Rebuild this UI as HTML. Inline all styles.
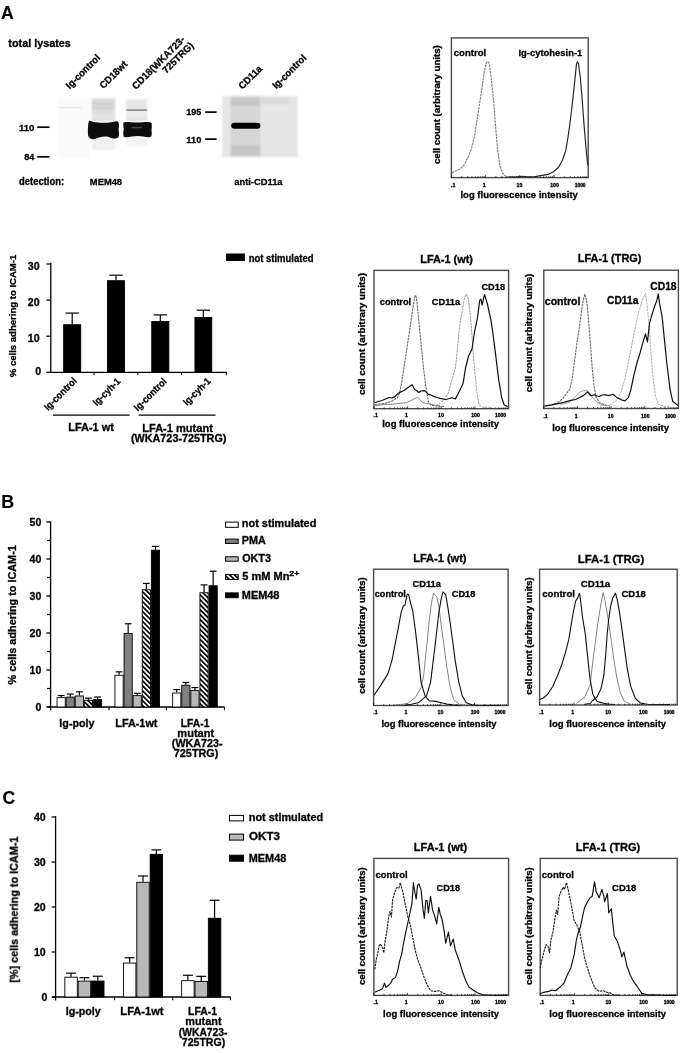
<!DOCTYPE html>
<html><head><meta charset="utf-8"><style>
html,body{margin:0;padding:0;background:#fff;}
body{width:685px;height:1053px;overflow:hidden;}
svg{display:block;font-family:"Liberation Sans",sans-serif;font-weight:bold;filter:grayscale(1);}
text{stroke:#000;stroke-width:0.3px;}
</style></head><body>
<svg width="685" height="1053" viewBox="0 0 685 1053">
<defs>
<filter id="b1" filterUnits="userSpaceOnUse" x="0" y="0" width="685" height="1053"><feGaussianBlur stdDeviation="1"/></filter>
<filter id="b2" filterUnits="userSpaceOnUse" x="0" y="0" width="685" height="1053"><feGaussianBlur stdDeviation="2"/></filter>
<filter id="gb" filterUnits="userSpaceOnUse" x="0" y="0" width="685" height="1053"><feGaussianBlur stdDeviation="0.5"/></filter>
<filter id="b05" filterUnits="userSpaceOnUse" x="0" y="0" width="685" height="1053"><feGaussianBlur stdDeviation="0.5"/></filter>
<pattern id="hatch" patternUnits="userSpaceOnUse" width="3.5" height="6" patternTransform="rotate(-45)">
<rect x="0" y="0" width="3.5" height="6" fill="#fff"/><rect x="0" y="0" width="1.7" height="6" fill="#000"/></pattern>
</defs>
<rect x="0" y="0" width="685" height="1053" fill="#fff"/>
<g filter="url(#gb)">
<text x="0.96" y="18.90" font-size="18.5" textLength="12.70" lengthAdjust="spacingAndGlyphs" fill="#000" style="stroke-width:0.15px">A</text>
<text x="1.20" y="507.80" font-size="18.5" textLength="12.91" lengthAdjust="spacingAndGlyphs" fill="#000" style="stroke-width:0.15px">B</text>
<text x="2.48" y="804.00" font-size="18.5" textLength="12.70" lengthAdjust="spacingAndGlyphs" fill="#000" style="stroke-width:0.15px">C</text>
<text x="8.37" y="47.30" font-size="10.81" textLength="62.48" lengthAdjust="spacingAndGlyphs" fill="#000">total lysates</text>
<defs><linearGradient id="sm1" x1="0" y1="0" x2="0" y2="1"><stop offset="0" stop-color="#e2e2e2"/><stop offset="0.2" stop-color="#d2d2d2"/><stop offset="0.5" stop-color="#dadada"/><stop offset="0.8" stop-color="#e6e6e6"/><stop offset="1" stop-color="#dcdcdc"/></linearGradient><linearGradient id="sm2" x1="0" y1="0" x2="0" y2="1"><stop offset="0" stop-color="#e8e8e8"/><stop offset="0.4" stop-color="#e2e2e2"/><stop offset="0.7" stop-color="#ededed"/><stop offset="1" stop-color="#e0e0e0"/></linearGradient></defs>
<g filter="url(#b1)">
<rect x="57.00" y="97.00" width="33.00" height="61.00" fill="#fafafa"/>
<rect x="91.70" y="98.20" width="23.30" height="23.00" fill="url(#sm1)"/>
<rect x="126.10" y="99.30" width="21.10" height="22.00" fill="url(#sm2)"/>
<rect x="92.00" y="138.00" width="23.00" height="12.00" fill="#efefef"/>
<rect x="127.00" y="137.00" width="20.00" height="9.00" fill="#f3f3f3"/>
</g>
<line x1="92.5" y1="103.5" x2="114.5" y2="103.5" stroke="#cccccc" stroke-width="0.8" filter="url(#b05)"/>
<line x1="92.5" y1="108.5" x2="114.5" y2="108.5" stroke="#cfcfcf" stroke-width="0.8" filter="url(#b05)"/>
<line x1="126.5" y1="110.1" x2="147" y2="110.1" stroke="#7a7a7a" stroke-width="1.4" filter="url(#b05)"/>
<line x1="59.6" y1="107.6" x2="81.5" y2="107.6" stroke="#e2e2e2" stroke-width="0.9"/>
<path d="M89.60 120.80 C90.50 120.58 91.63 121.67 93.80 122.00 C95.97 122.33 99.68 122.77 102.60 122.80 C105.52 122.83 108.83 122.43 111.30 122.20 C113.77 121.97 116.12 120.97 117.40 121.40 C118.68 121.83 118.80 123.47 119.00 124.80 C119.20 126.13 118.60 127.90 118.60 129.40 C118.60 130.90 119.13 132.40 119.00 133.80 C118.87 135.20 118.78 137.03 117.80 137.80 C116.82 138.57 115.05 138.60 113.10 138.40 C111.15 138.20 108.43 136.75 106.10 136.60 C103.77 136.45 101.30 137.05 99.10 137.50 C96.90 137.95 94.67 139.45 92.90 139.30 C91.13 139.15 89.33 138.25 88.50 136.60 C87.67 134.95 87.92 131.62 87.90 129.40 C87.88 127.18 88.12 124.73 88.40 123.30 C88.68 121.87 88.70 121.02 89.60 120.80 Z" fill="#0a0a0a" filter="url(#b05)"/>
<path d="M124.60 122.20 C126.87 121.80 132.78 122.60 137.00 122.60 C141.22 122.60 147.43 121.80 149.90 122.20 C152.37 122.60 151.53 123.65 151.80 125.00 C152.07 126.35 151.52 128.68 151.50 130.30 C151.48 131.92 152.08 133.55 151.70 134.70 C151.32 135.85 151.55 136.97 149.20 137.20 C146.85 137.43 141.58 136.10 137.60 136.10 C133.62 136.10 127.68 137.58 125.30 137.20 C122.92 136.82 123.57 135.10 123.30 133.80 C123.03 132.50 123.68 130.87 123.70 129.40 C123.72 127.93 123.25 126.20 123.40 125.00 C123.55 123.80 122.33 122.60 124.60 122.20 Z" fill="#0a0a0a" filter="url(#b05)"/>
<line x1="131.5" y1="127.7" x2="142" y2="127.7" stroke="#555" stroke-width="1.0" filter="url(#b05)"/>
<text x="19.02" y="130.90" font-size="9.3" textLength="15.36" lengthAdjust="spacingAndGlyphs" fill="#000">110</text>
<line x1="37.2" y1="127.2" x2="49.6" y2="127.2" stroke="#000" stroke-width="1.7"/>
<text x="24.21" y="159.90" font-size="9.3" textLength="10.14" lengthAdjust="spacingAndGlyphs" fill="#000">84</text>
<line x1="37.2" y1="156.8" x2="49.6" y2="156.8" stroke="#000" stroke-width="1.7"/>
<text x="19.11" y="185.00" font-size="10.0" textLength="44.99" lengthAdjust="spacingAndGlyphs" fill="#000">detection:</text>
<text x="89.87" y="185.00" font-size="9.8" textLength="32.21" lengthAdjust="spacingAndGlyphs" fill="#000">MEM48</text>
<text transform="translate(70.20 89.00) rotate(-45)" x="-0.64" y="0" font-size="9.8" textLength="43.91" lengthAdjust="spacingAndGlyphs" fill="#000">Ig-control</text>
<text transform="translate(103.80 89.00) rotate(-45)" x="-0.39" y="0" font-size="9.8" textLength="34.50" lengthAdjust="spacingAndGlyphs" fill="#000">CD18wt</text>
<text transform="translate(136.20 89.60) rotate(-45)" x="-0.40" y="0" font-size="9.8" textLength="70.28" lengthAdjust="spacingAndGlyphs" fill="#000">CD18(WKA723-</text>
<text transform="translate(166.60 73.80) rotate(-45)" x="-0.41" y="0" font-size="9.8" textLength="39.49" lengthAdjust="spacingAndGlyphs" fill="#000">725TRG)</text>
<g filter="url(#b1)">
<rect x="222.00" y="96.00" width="76.00" height="61.00" fill="#e6e6e6"/>
<rect x="230.50" y="96.00" width="30.00" height="61.00" fill="#d6d6d6"/>
<rect x="231.00" y="98.00" width="29.00" height="8.00" fill="#c6c6c6"/>
<rect x="231.00" y="145.00" width="29.00" height="10.00" fill="#c4c4c4"/>
<rect x="262.00" y="98.00" width="27.00" height="6.00" fill="#d8d8d8"/>
</g>
<path d="M234.2 122.8 L257.4 122.8 Q260.4 122.8 260.4 125.8 Q259.9 125.80000000000001 260.4 125.80000000000001 Q260.4 128.8 257.4 128.8 L234.2 128.8 Q231.2 128.8 231.2 125.80000000000001 Q231.7 125.80000000000001 231.2 125.8 Q231.2 122.8 234.2 122.8 Z" fill="#050505" filter="url(#b05)"/>
<text x="186.34" y="115.40" font-size="9.0" textLength="14.91" lengthAdjust="spacingAndGlyphs" fill="#000">195</text>
<line x1="205.2" y1="112.1" x2="216.6" y2="112.1" stroke="#000" stroke-width="1.7"/>
<text x="186.33" y="142.60" font-size="9.0" textLength="15.04" lengthAdjust="spacingAndGlyphs" fill="#000">110</text>
<line x1="205.2" y1="139.1" x2="216.6" y2="139.1" stroke="#000" stroke-width="1.7"/>
<text x="234.23" y="184.60" font-size="9.8" textLength="48.31" lengthAdjust="spacingAndGlyphs" fill="#000">anti-CD11a</text>
<text transform="translate(242.70 89.60) rotate(-45)" x="-0.38" y="0" font-size="9.8" textLength="28.82" lengthAdjust="spacingAndGlyphs" fill="#000">CD11a</text>
<text transform="translate(276.70 88.90) rotate(-45)" x="-0.63" y="0" font-size="9.8" textLength="43.50" lengthAdjust="spacingAndGlyphs" fill="#000">Ig-control</text>
<rect x="451.40" y="37.90" width="136.80" height="139.70" fill="none" stroke="#4a4a4a" stroke-width="1.4"/>
<line x1="451.40" y1="177.6" x2="451.40" y2="175.10" stroke="#000" stroke-width="0.7"/>
<line x1="461.70" y1="177.6" x2="461.70" y2="176.20" stroke="#000" stroke-width="0.7"/>
<line x1="467.72" y1="177.6" x2="467.72" y2="176.20" stroke="#000" stroke-width="0.7"/>
<line x1="471.99" y1="177.6" x2="471.99" y2="176.20" stroke="#000" stroke-width="0.7"/>
<line x1="475.30" y1="177.6" x2="475.30" y2="176.20" stroke="#000" stroke-width="0.7"/>
<line x1="478.01" y1="177.6" x2="478.01" y2="176.20" stroke="#000" stroke-width="0.7"/>
<line x1="480.30" y1="177.6" x2="480.30" y2="176.20" stroke="#000" stroke-width="0.7"/>
<line x1="482.29" y1="177.6" x2="482.29" y2="176.20" stroke="#000" stroke-width="0.7"/>
<line x1="484.04" y1="177.6" x2="484.04" y2="176.20" stroke="#000" stroke-width="0.7"/>
<line x1="485.60" y1="177.6" x2="485.60" y2="175.10" stroke="#000" stroke-width="0.7"/>
<line x1="495.90" y1="177.6" x2="495.90" y2="176.20" stroke="#000" stroke-width="0.7"/>
<line x1="501.92" y1="177.6" x2="501.92" y2="176.20" stroke="#000" stroke-width="0.7"/>
<line x1="506.19" y1="177.6" x2="506.19" y2="176.20" stroke="#000" stroke-width="0.7"/>
<line x1="509.50" y1="177.6" x2="509.50" y2="176.20" stroke="#000" stroke-width="0.7"/>
<line x1="512.21" y1="177.6" x2="512.21" y2="176.20" stroke="#000" stroke-width="0.7"/>
<line x1="514.50" y1="177.6" x2="514.50" y2="176.20" stroke="#000" stroke-width="0.7"/>
<line x1="516.49" y1="177.6" x2="516.49" y2="176.20" stroke="#000" stroke-width="0.7"/>
<line x1="518.24" y1="177.6" x2="518.24" y2="176.20" stroke="#000" stroke-width="0.7"/>
<line x1="519.80" y1="177.6" x2="519.80" y2="175.10" stroke="#000" stroke-width="0.7"/>
<line x1="530.10" y1="177.6" x2="530.10" y2="176.20" stroke="#000" stroke-width="0.7"/>
<line x1="536.12" y1="177.6" x2="536.12" y2="176.20" stroke="#000" stroke-width="0.7"/>
<line x1="540.39" y1="177.6" x2="540.39" y2="176.20" stroke="#000" stroke-width="0.7"/>
<line x1="543.70" y1="177.6" x2="543.70" y2="176.20" stroke="#000" stroke-width="0.7"/>
<line x1="546.41" y1="177.6" x2="546.41" y2="176.20" stroke="#000" stroke-width="0.7"/>
<line x1="548.70" y1="177.6" x2="548.70" y2="176.20" stroke="#000" stroke-width="0.7"/>
<line x1="550.69" y1="177.6" x2="550.69" y2="176.20" stroke="#000" stroke-width="0.7"/>
<line x1="552.44" y1="177.6" x2="552.44" y2="176.20" stroke="#000" stroke-width="0.7"/>
<line x1="554.00" y1="177.6" x2="554.00" y2="175.10" stroke="#000" stroke-width="0.7"/>
<line x1="564.30" y1="177.6" x2="564.30" y2="176.20" stroke="#000" stroke-width="0.7"/>
<line x1="570.32" y1="177.6" x2="570.32" y2="176.20" stroke="#000" stroke-width="0.7"/>
<line x1="574.59" y1="177.6" x2="574.59" y2="176.20" stroke="#000" stroke-width="0.7"/>
<line x1="577.90" y1="177.6" x2="577.90" y2="176.20" stroke="#000" stroke-width="0.7"/>
<line x1="580.61" y1="177.6" x2="580.61" y2="176.20" stroke="#000" stroke-width="0.7"/>
<line x1="582.90" y1="177.6" x2="582.90" y2="176.20" stroke="#000" stroke-width="0.7"/>
<line x1="584.89" y1="177.6" x2="584.89" y2="176.20" stroke="#000" stroke-width="0.7"/>
<line x1="586.64" y1="177.6" x2="586.64" y2="176.20" stroke="#000" stroke-width="0.7"/>
<path d="M451.8 173.0 L455.7 171.1 L460.8 168.5 L464.7 164.0 L468.5 156.3 L471.7 147.4 L474.3 137.1 L476.8 121.7 L479.4 105.1 L481.9 88.4 L484.5 70.5 L486.4 62.8 L487.7 61.5 L489.0 62.8 L490.9 75.6 L492.8 92.3 L494.1 107.6 L495.4 124.3 L496.7 139.7 L498.0 152.5 L499.9 165.3 L502.4 173.0 L505.6 176.2 L509.5 176.8" fill="none" stroke="#7a7a7a" stroke-width="1.1" stroke-linejoin="round" stroke-dasharray="2.5 0.8"/>
<path d="M509.5 176.8 L515.0 177.1 L522.7 176.3 L527.8 176.9 L534.2 176.7 L540.6 175.6 L548.3 174.4 L553.5 171.8 L558.6 167.3 L562.4 160.3 L565.6 151.3 L567.6 139.7 L569.5 126.9 L571.4 111.5 L573.3 94.9 L575.3 75.6 L576.5 64.1 L577.4 61.8 L578.5 64.1 L580.4 78.2 L582.3 101.3 L584.2 126.9 L586.2 150.0 L587.4 162.8 L588.1 165.4" fill="none" stroke="#222" stroke-width="1.15" stroke-linejoin="round"/>
<text x="453.73" y="56.00" font-size="9.58" textLength="32.45" lengthAdjust="spacingAndGlyphs" fill="#000">control</text>
<text x="518.47" y="56.00" font-size="9.41" textLength="63.79" lengthAdjust="spacingAndGlyphs" fill="#000">Ig-cytohesin-1</text>
<text x="460.44" y="198.30" font-size="9.52" textLength="117.42" lengthAdjust="spacingAndGlyphs" fill="#000">log fluorescence intensity</text>
<text transform="translate(440.20 163.70) rotate(-90)" x="-0.38" y="0" font-size="8.4" textLength="118.86" lengthAdjust="spacingAndGlyphs" fill="#000">cell count (arbitrary units)</text>
<text x="451.03" y="187.20" font-size="5.2" textLength="4.34" lengthAdjust="spacingAndGlyphs" fill="#000">.1</text>
<text x="482.86" y="187.20" font-size="5.2" textLength="2.89" lengthAdjust="spacingAndGlyphs" fill="#000">1</text>
<text x="516.55" y="187.20" font-size="5.2" textLength="5.78" lengthAdjust="spacingAndGlyphs" fill="#000">10</text>
<text x="550.20" y="187.20" font-size="5.2" textLength="8.68" lengthAdjust="spacingAndGlyphs" fill="#000">100</text>
<text x="574.68" y="187.20" font-size="4.92" textLength="10.94" lengthAdjust="spacingAndGlyphs" fill="#000">1000</text>
<rect x="374.00" y="270.40" width="134.60" height="138.30" fill="none" stroke="#4a4a4a" stroke-width="1.4"/>
<line x1="374.00" y1="408.7" x2="374.00" y2="406.20" stroke="#000" stroke-width="0.7"/>
<line x1="384.13" y1="408.7" x2="384.13" y2="407.30" stroke="#000" stroke-width="0.7"/>
<line x1="390.06" y1="408.7" x2="390.06" y2="407.30" stroke="#000" stroke-width="0.7"/>
<line x1="394.26" y1="408.7" x2="394.26" y2="407.30" stroke="#000" stroke-width="0.7"/>
<line x1="397.52" y1="408.7" x2="397.52" y2="407.30" stroke="#000" stroke-width="0.7"/>
<line x1="400.18" y1="408.7" x2="400.18" y2="407.30" stroke="#000" stroke-width="0.7"/>
<line x1="402.44" y1="408.7" x2="402.44" y2="407.30" stroke="#000" stroke-width="0.7"/>
<line x1="404.39" y1="408.7" x2="404.39" y2="407.30" stroke="#000" stroke-width="0.7"/>
<line x1="406.11" y1="408.7" x2="406.11" y2="407.30" stroke="#000" stroke-width="0.7"/>
<line x1="407.65" y1="408.7" x2="407.65" y2="406.20" stroke="#000" stroke-width="0.7"/>
<line x1="417.78" y1="408.7" x2="417.78" y2="407.30" stroke="#000" stroke-width="0.7"/>
<line x1="423.71" y1="408.7" x2="423.71" y2="407.30" stroke="#000" stroke-width="0.7"/>
<line x1="427.91" y1="408.7" x2="427.91" y2="407.30" stroke="#000" stroke-width="0.7"/>
<line x1="431.17" y1="408.7" x2="431.17" y2="407.30" stroke="#000" stroke-width="0.7"/>
<line x1="433.83" y1="408.7" x2="433.83" y2="407.30" stroke="#000" stroke-width="0.7"/>
<line x1="436.09" y1="408.7" x2="436.09" y2="407.30" stroke="#000" stroke-width="0.7"/>
<line x1="438.04" y1="408.7" x2="438.04" y2="407.30" stroke="#000" stroke-width="0.7"/>
<line x1="439.76" y1="408.7" x2="439.76" y2="407.30" stroke="#000" stroke-width="0.7"/>
<line x1="441.30" y1="408.7" x2="441.30" y2="406.20" stroke="#000" stroke-width="0.7"/>
<line x1="451.43" y1="408.7" x2="451.43" y2="407.30" stroke="#000" stroke-width="0.7"/>
<line x1="457.36" y1="408.7" x2="457.36" y2="407.30" stroke="#000" stroke-width="0.7"/>
<line x1="461.56" y1="408.7" x2="461.56" y2="407.30" stroke="#000" stroke-width="0.7"/>
<line x1="464.82" y1="408.7" x2="464.82" y2="407.30" stroke="#000" stroke-width="0.7"/>
<line x1="467.48" y1="408.7" x2="467.48" y2="407.30" stroke="#000" stroke-width="0.7"/>
<line x1="469.74" y1="408.7" x2="469.74" y2="407.30" stroke="#000" stroke-width="0.7"/>
<line x1="471.69" y1="408.7" x2="471.69" y2="407.30" stroke="#000" stroke-width="0.7"/>
<line x1="473.41" y1="408.7" x2="473.41" y2="407.30" stroke="#000" stroke-width="0.7"/>
<line x1="474.95" y1="408.7" x2="474.95" y2="406.20" stroke="#000" stroke-width="0.7"/>
<line x1="485.08" y1="408.7" x2="485.08" y2="407.30" stroke="#000" stroke-width="0.7"/>
<line x1="491.01" y1="408.7" x2="491.01" y2="407.30" stroke="#000" stroke-width="0.7"/>
<line x1="495.21" y1="408.7" x2="495.21" y2="407.30" stroke="#000" stroke-width="0.7"/>
<line x1="498.47" y1="408.7" x2="498.47" y2="407.30" stroke="#000" stroke-width="0.7"/>
<line x1="501.13" y1="408.7" x2="501.13" y2="407.30" stroke="#000" stroke-width="0.7"/>
<line x1="503.39" y1="408.7" x2="503.39" y2="407.30" stroke="#000" stroke-width="0.7"/>
<line x1="505.34" y1="408.7" x2="505.34" y2="407.30" stroke="#000" stroke-width="0.7"/>
<line x1="507.06" y1="408.7" x2="507.06" y2="407.30" stroke="#000" stroke-width="0.7"/>
<path d="M375.0 405.5 L385.0 404.5 L395.0 404.0 L400.0 403.2 L406.9 402.6 L412.0 400.0 L417.6 397.2 L420.0 399.5 L422.3 402.6 L428.3 403.8 L434.0 405.0 L440.0 405.8" fill="none" stroke="#8a8a8a" stroke-width="1.0" stroke-linejoin="round"/>
<path d="M375.0 404.5 L385.0 403.5 L392.0 401.0 L397.4 397.8 L399.8 391.9 L402.1 380.0 L405.7 356.3 L409.3 332.5 L412.8 308.8 L414.5 298.0 L415.4 295.1 L416.2 297.0 L417.0 302.8 L418.8 320.6 L421.1 344.4 L423.5 368.1 L425.9 387.1 L428.3 401.4 L430.6 405.0 L436.0 406.0 L445.0 406.5" fill="none" stroke="#6a6a6a" stroke-width="1.1" stroke-linejoin="round" stroke-dasharray="2.5 0.8"/>
<path d="M436.0 405.5 L440.0 403.6 L444.7 398.9 L448.3 393.0 L451.9 379.9 L455.4 368.0 L457.5 348.0 L459.6 326.5 L462.5 308.7 L464.5 298.0 L466.3 293.9 L468.5 299.2 L470.8 320.6 L472.6 344.3 L474.4 368.0 L476.8 391.8 L479.1 404.8 L482.7 407.2 L490.0 407.3" fill="none" stroke="#999" stroke-width="1.0" stroke-linejoin="round" stroke-dasharray="2.5 0.8"/>
<path d="M375.0 402.8 L378.0 401.5 L382.0 400.5 L386.0 398.8 L389.0 397.5 L392.0 398.0 L395.0 396.6 L398.0 393.5 L400.9 391.9 L404.0 390.5 L406.9 388.3 L409.5 386.5 L412.2 384.8 L414.6 389.5 L416.5 390.5 L418.8 392.5 L421.0 391.0 L424.7 390.7 L428.3 394.3 L431.0 395.0 L434.2 396.6 L437.0 397.5 L440.0 398.3 L445.9 399.5 L451.9 397.7 L455.4 398.9 L458.0 394.0 L460.2 389.4 L463.1 383.5 L465.5 368.0 L468.5 356.2 L472.0 349.0 L474.4 332.5 L477.4 318.2 L479.7 300.4 L480.9 299.2 L482.1 305.2 L484.5 294.5 L486.3 300.4 L487.4 304.0 L491.0 320.6 L492.8 332.5 L495.8 356.2 L498.7 379.9 L501.7 397.7 L504.1 404.8 L507.6 406.6" fill="none" stroke="#111" stroke-width="1.2" stroke-linejoin="round"/>
<text x="379.74" y="305.20" font-size="9.27" textLength="31.42" lengthAdjust="spacingAndGlyphs" fill="#000">control</text>
<text x="431.83" y="305.00" font-size="9.06" textLength="28.21" lengthAdjust="spacingAndGlyphs" fill="#000">CD11a</text>
<text x="481.42" y="290.30" font-size="9.26" textLength="23.66" lengthAdjust="spacingAndGlyphs" fill="#000">CD18</text>
<text x="420.28" y="263.00" font-size="10.77" textLength="52.66" lengthAdjust="spacingAndGlyphs" fill="#000">LFA-1 (wt)</text>
<text x="382.24" y="426.60" font-size="9.47" textLength="116.81" lengthAdjust="spacingAndGlyphs" fill="#000">log fluorescence intensity</text>
<text transform="translate(364.80 394.60) rotate(-90)" x="-0.39" y="0" font-size="8.3" textLength="121.98" lengthAdjust="spacingAndGlyphs" fill="#000">cell count (arbitrary units)</text>
<text x="373.63" y="417.00" font-size="5.2" textLength="4.34" lengthAdjust="spacingAndGlyphs" fill="#000">.1</text>
<text x="404.91" y="417.00" font-size="5.2" textLength="2.89" lengthAdjust="spacingAndGlyphs" fill="#000">1</text>
<text x="438.05" y="417.00" font-size="5.2" textLength="5.78" lengthAdjust="spacingAndGlyphs" fill="#000">10</text>
<text x="471.15" y="417.00" font-size="5.2" textLength="8.68" lengthAdjust="spacingAndGlyphs" fill="#000">100</text>
<text x="495.08" y="417.00" font-size="4.92" textLength="10.94" lengthAdjust="spacingAndGlyphs" fill="#000">1000</text>
<rect x="543.80" y="270.20" width="134.60" height="138.30" fill="none" stroke="#4a4a4a" stroke-width="1.4"/>
<line x1="543.80" y1="408.5" x2="543.80" y2="406.00" stroke="#000" stroke-width="0.7"/>
<line x1="553.93" y1="408.5" x2="553.93" y2="407.10" stroke="#000" stroke-width="0.7"/>
<line x1="559.86" y1="408.5" x2="559.86" y2="407.10" stroke="#000" stroke-width="0.7"/>
<line x1="564.06" y1="408.5" x2="564.06" y2="407.10" stroke="#000" stroke-width="0.7"/>
<line x1="567.32" y1="408.5" x2="567.32" y2="407.10" stroke="#000" stroke-width="0.7"/>
<line x1="569.98" y1="408.5" x2="569.98" y2="407.10" stroke="#000" stroke-width="0.7"/>
<line x1="572.24" y1="408.5" x2="572.24" y2="407.10" stroke="#000" stroke-width="0.7"/>
<line x1="574.19" y1="408.5" x2="574.19" y2="407.10" stroke="#000" stroke-width="0.7"/>
<line x1="575.91" y1="408.5" x2="575.91" y2="407.10" stroke="#000" stroke-width="0.7"/>
<line x1="577.45" y1="408.5" x2="577.45" y2="406.00" stroke="#000" stroke-width="0.7"/>
<line x1="587.58" y1="408.5" x2="587.58" y2="407.10" stroke="#000" stroke-width="0.7"/>
<line x1="593.51" y1="408.5" x2="593.51" y2="407.10" stroke="#000" stroke-width="0.7"/>
<line x1="597.71" y1="408.5" x2="597.71" y2="407.10" stroke="#000" stroke-width="0.7"/>
<line x1="600.97" y1="408.5" x2="600.97" y2="407.10" stroke="#000" stroke-width="0.7"/>
<line x1="603.63" y1="408.5" x2="603.63" y2="407.10" stroke="#000" stroke-width="0.7"/>
<line x1="605.89" y1="408.5" x2="605.89" y2="407.10" stroke="#000" stroke-width="0.7"/>
<line x1="607.84" y1="408.5" x2="607.84" y2="407.10" stroke="#000" stroke-width="0.7"/>
<line x1="609.56" y1="408.5" x2="609.56" y2="407.10" stroke="#000" stroke-width="0.7"/>
<line x1="611.10" y1="408.5" x2="611.10" y2="406.00" stroke="#000" stroke-width="0.7"/>
<line x1="621.23" y1="408.5" x2="621.23" y2="407.10" stroke="#000" stroke-width="0.7"/>
<line x1="627.16" y1="408.5" x2="627.16" y2="407.10" stroke="#000" stroke-width="0.7"/>
<line x1="631.36" y1="408.5" x2="631.36" y2="407.10" stroke="#000" stroke-width="0.7"/>
<line x1="634.62" y1="408.5" x2="634.62" y2="407.10" stroke="#000" stroke-width="0.7"/>
<line x1="637.28" y1="408.5" x2="637.28" y2="407.10" stroke="#000" stroke-width="0.7"/>
<line x1="639.54" y1="408.5" x2="639.54" y2="407.10" stroke="#000" stroke-width="0.7"/>
<line x1="641.49" y1="408.5" x2="641.49" y2="407.10" stroke="#000" stroke-width="0.7"/>
<line x1="643.21" y1="408.5" x2="643.21" y2="407.10" stroke="#000" stroke-width="0.7"/>
<line x1="644.75" y1="408.5" x2="644.75" y2="406.00" stroke="#000" stroke-width="0.7"/>
<line x1="654.88" y1="408.5" x2="654.88" y2="407.10" stroke="#000" stroke-width="0.7"/>
<line x1="660.81" y1="408.5" x2="660.81" y2="407.10" stroke="#000" stroke-width="0.7"/>
<line x1="665.01" y1="408.5" x2="665.01" y2="407.10" stroke="#000" stroke-width="0.7"/>
<line x1="668.27" y1="408.5" x2="668.27" y2="407.10" stroke="#000" stroke-width="0.7"/>
<line x1="670.93" y1="408.5" x2="670.93" y2="407.10" stroke="#000" stroke-width="0.7"/>
<line x1="673.19" y1="408.5" x2="673.19" y2="407.10" stroke="#000" stroke-width="0.7"/>
<line x1="675.14" y1="408.5" x2="675.14" y2="407.10" stroke="#000" stroke-width="0.7"/>
<line x1="676.86" y1="408.5" x2="676.86" y2="407.10" stroke="#000" stroke-width="0.7"/>
<path d="M560.0 404.5 L569.7 402.4 L575.0 397.0 L580.3 391.8 L586.3 390.0 L589.8 393.0 L593.4 398.9 L599.3 403.6 L606.4 406.0" fill="none" stroke="#999" stroke-width="0.9" stroke-linejoin="round"/>
<path d="M544.7 406.0 L551.9 404.8 L557.8 402.4 L562.5 398.9 L566.1 394.1 L569.7 389.4 L572.0 379.9 L574.4 362.1 L576.8 344.3 L580.3 320.6 L582.7 302.8 L584.8 293.9 L586.9 302.8 L588.6 320.6 L590.4 344.3 L592.2 368.0 L594.0 385.8 L595.8 396.5 L599.3 402.4 L604.1 404.8 L610.0 406.0" fill="none" stroke="#6a6a6a" stroke-width="1.1" stroke-linejoin="round" stroke-dasharray="2.5 0.8"/>
<path d="M600.0 406.0 L609.0 405.5 L615.6 401.6 L621.0 392.3 L624.9 379.0 L628.3 363.0 L630.9 349.7 L634.2 332.5 L638.2 313.9 L642.2 300.6 L645.5 293.3 L646.9 303.2 L648.9 323.2 L650.8 349.7 L652.8 376.3 L655.5 396.2 L658.2 404.2 L663.5 406.2 L670.0 406.4" fill="none" stroke="#aaa" stroke-width="1.0" stroke-linejoin="round" stroke-dasharray="2.5 0.8"/>
<path d="M544.7 406.0 L551.9 404.8 L557.8 403.6 L563.7 402.4 L569.7 400.7 L575.6 399.5 L579.1 397.7 L582.7 395.9 L585.1 394.1 L587.4 391.8 L588.6 393.0 L591.0 395.9 L594.6 394.7 L597.0 396.0 L599.3 396.5 L602.0 395.0 L605.0 394.9 L609.0 395.6 L613.0 394.3 L617.0 397.6 L622.3 400.2 L624.9 400.9 L628.3 397.6 L630.9 389.6 L633.6 376.3 L636.9 363.0 L640.2 352.4 L643.5 340.4 L645.5 333.8 L647.5 341.8 L649.5 323.2 L652.2 313.9 L654.8 305.9 L656.8 300.6 L658.2 293.9 L659.5 303.2 L662.1 316.5 L664.1 336.4 L666.8 363.0 L670.1 389.6 L672.8 401.6 L678.1 405.5" fill="none" stroke="#111" stroke-width="1.2" stroke-linejoin="round"/>
<text x="544.79" y="304.60" font-size="10.52" textLength="35.66" lengthAdjust="spacingAndGlyphs" fill="#000">control</text>
<text x="607.09" y="303.90" font-size="10.04" textLength="31.25" lengthAdjust="spacingAndGlyphs" fill="#000">CD11a</text>
<text x="650.28" y="290.00" font-size="10.3" textLength="26.34" lengthAdjust="spacingAndGlyphs" fill="#000">CD18</text>
<text x="577.78" y="262.30" font-size="10.81" textLength="63.66" lengthAdjust="spacingAndGlyphs" fill="#000">LFA-1 (TRG)</text>
<text x="552.24" y="430.50" font-size="9.47" textLength="116.81" lengthAdjust="spacingAndGlyphs" fill="#000">log fluorescence intensity</text>
<text transform="translate(531.60 391.80) rotate(-90)" x="-0.38" y="0" font-size="8.3" textLength="118.45" lengthAdjust="spacingAndGlyphs" fill="#000">cell count (arbitrary units)</text>
<text x="543.43" y="417.50" font-size="5.2" textLength="4.34" lengthAdjust="spacingAndGlyphs" fill="#000">.1</text>
<text x="574.71" y="417.50" font-size="5.2" textLength="2.89" lengthAdjust="spacingAndGlyphs" fill="#000">1</text>
<text x="607.85" y="417.50" font-size="5.2" textLength="5.78" lengthAdjust="spacingAndGlyphs" fill="#000">10</text>
<text x="640.95" y="417.50" font-size="5.2" textLength="8.68" lengthAdjust="spacingAndGlyphs" fill="#000">100</text>
<text x="664.88" y="417.50" font-size="4.92" textLength="10.94" lengthAdjust="spacingAndGlyphs" fill="#000">1000</text>
<rect x="373.60" y="569.20" width="134.50" height="136.30" fill="none" stroke="#4a4a4a" stroke-width="1.4"/>
<line x1="373.60" y1="705.5" x2="373.60" y2="703.00" stroke="#000" stroke-width="0.7"/>
<line x1="383.72" y1="705.5" x2="383.72" y2="704.10" stroke="#000" stroke-width="0.7"/>
<line x1="389.64" y1="705.5" x2="389.64" y2="704.10" stroke="#000" stroke-width="0.7"/>
<line x1="393.84" y1="705.5" x2="393.84" y2="704.10" stroke="#000" stroke-width="0.7"/>
<line x1="397.10" y1="705.5" x2="397.10" y2="704.10" stroke="#000" stroke-width="0.7"/>
<line x1="399.77" y1="705.5" x2="399.77" y2="704.10" stroke="#000" stroke-width="0.7"/>
<line x1="402.02" y1="705.5" x2="402.02" y2="704.10" stroke="#000" stroke-width="0.7"/>
<line x1="403.97" y1="705.5" x2="403.97" y2="704.10" stroke="#000" stroke-width="0.7"/>
<line x1="405.69" y1="705.5" x2="405.69" y2="704.10" stroke="#000" stroke-width="0.7"/>
<line x1="407.23" y1="705.5" x2="407.23" y2="703.00" stroke="#000" stroke-width="0.7"/>
<line x1="417.35" y1="705.5" x2="417.35" y2="704.10" stroke="#000" stroke-width="0.7"/>
<line x1="423.27" y1="705.5" x2="423.27" y2="704.10" stroke="#000" stroke-width="0.7"/>
<line x1="427.47" y1="705.5" x2="427.47" y2="704.10" stroke="#000" stroke-width="0.7"/>
<line x1="430.73" y1="705.5" x2="430.73" y2="704.10" stroke="#000" stroke-width="0.7"/>
<line x1="433.39" y1="705.5" x2="433.39" y2="704.10" stroke="#000" stroke-width="0.7"/>
<line x1="435.64" y1="705.5" x2="435.64" y2="704.10" stroke="#000" stroke-width="0.7"/>
<line x1="437.59" y1="705.5" x2="437.59" y2="704.10" stroke="#000" stroke-width="0.7"/>
<line x1="439.31" y1="705.5" x2="439.31" y2="704.10" stroke="#000" stroke-width="0.7"/>
<line x1="440.85" y1="705.5" x2="440.85" y2="703.00" stroke="#000" stroke-width="0.7"/>
<line x1="450.97" y1="705.5" x2="450.97" y2="704.10" stroke="#000" stroke-width="0.7"/>
<line x1="456.89" y1="705.5" x2="456.89" y2="704.10" stroke="#000" stroke-width="0.7"/>
<line x1="461.09" y1="705.5" x2="461.09" y2="704.10" stroke="#000" stroke-width="0.7"/>
<line x1="464.35" y1="705.5" x2="464.35" y2="704.10" stroke="#000" stroke-width="0.7"/>
<line x1="467.02" y1="705.5" x2="467.02" y2="704.10" stroke="#000" stroke-width="0.7"/>
<line x1="469.27" y1="705.5" x2="469.27" y2="704.10" stroke="#000" stroke-width="0.7"/>
<line x1="471.22" y1="705.5" x2="471.22" y2="704.10" stroke="#000" stroke-width="0.7"/>
<line x1="472.94" y1="705.5" x2="472.94" y2="704.10" stroke="#000" stroke-width="0.7"/>
<line x1="474.48" y1="705.5" x2="474.48" y2="703.00" stroke="#000" stroke-width="0.7"/>
<line x1="484.60" y1="705.5" x2="484.60" y2="704.10" stroke="#000" stroke-width="0.7"/>
<line x1="490.52" y1="705.5" x2="490.52" y2="704.10" stroke="#000" stroke-width="0.7"/>
<line x1="494.72" y1="705.5" x2="494.72" y2="704.10" stroke="#000" stroke-width="0.7"/>
<line x1="497.98" y1="705.5" x2="497.98" y2="704.10" stroke="#000" stroke-width="0.7"/>
<line x1="500.64" y1="705.5" x2="500.64" y2="704.10" stroke="#000" stroke-width="0.7"/>
<line x1="502.89" y1="705.5" x2="502.89" y2="704.10" stroke="#000" stroke-width="0.7"/>
<line x1="504.84" y1="705.5" x2="504.84" y2="704.10" stroke="#000" stroke-width="0.7"/>
<line x1="506.56" y1="705.5" x2="506.56" y2="704.10" stroke="#000" stroke-width="0.7"/>
<path d="M395.0 705.0 L403.1 704.2 L408.6 702.8 L415.5 697.3 L421.0 687.6 L423.7 675.2 L426.5 647.7 L429.3 620.1 L431.5 603.0 L433.5 593.2 L436.7 596.7 L438.8 606.3 L441.5 627.0 L444.3 647.7 L447.0 668.3 L450.5 689.0 L453.9 700.0 L459.4 704.1 L466.3 705.3" fill="none" stroke="#777" stroke-width="0.9" stroke-linejoin="round"/>
<path d="M374.1 695.2 L381.0 684.9 L387.9 673.9 L392.0 660.1 L395.5 642.2 L398.2 628.4 L401.0 613.2 L403.1 606.3 L405.1 605.0 L406.1 599.4 L407.2 594.0 L408.6 594.6 L410.7 603.6 L412.7 610.5 L415.5 631.1 L418.2 654.6 L421.0 682.1 L425.1 695.9 L429.1 700.7 L436.0 701.4 L441.5 702.8 L447.0 704.1 L452.6 704.8 L460.0 705.2" fill="none" stroke="#111" stroke-width="1.1" stroke-linejoin="round"/>
<path d="M405.0 705.2 L411.3 704.2 L418.2 702.8 L426.5 695.9 L430.6 682.1 L434.8 647.7 L438.8 613.2 L440.8 600.8 L442.9 591.9 L445.7 594.6 L447.7 606.3 L449.8 620.1 L452.6 640.8 L455.3 661.4 L458.8 682.1 L462.2 695.9 L466.3 702.8 L471.8 704.8 L477.3 705.3 L500.0 705.3" fill="none" stroke="#111" stroke-width="1.1" stroke-linejoin="round"/>
<text x="374.74" y="597.00" font-size="9.18" textLength="31.11" lengthAdjust="spacingAndGlyphs" fill="#000">control</text>
<text x="412.53" y="587.20" font-size="9.1" textLength="28.32" lengthAdjust="spacingAndGlyphs" fill="#000">CD11a</text>
<text x="451.82" y="597.00" font-size="9.18" textLength="23.46" lengthAdjust="spacingAndGlyphs" fill="#000">CD18</text>
<text x="413.17" y="562.30" font-size="10.92" textLength="53.37" lengthAdjust="spacingAndGlyphs" fill="#000">LFA-1 (wt)</text>
<text x="381.45" y="727.00" font-size="9.33" textLength="115.10" lengthAdjust="spacingAndGlyphs" fill="#000">log fluorescence intensity</text>
<text transform="translate(364.80 693.50) rotate(-90)" x="-0.37" y="0" font-size="8.3" textLength="116.54" lengthAdjust="spacingAndGlyphs" fill="#000">cell count (arbitrary units)</text>
<text x="373.23" y="714.00" font-size="5.2" textLength="4.34" lengthAdjust="spacingAndGlyphs" fill="#000">.1</text>
<text x="404.49" y="714.00" font-size="5.2" textLength="2.89" lengthAdjust="spacingAndGlyphs" fill="#000">1</text>
<text x="437.60" y="714.00" font-size="5.2" textLength="5.78" lengthAdjust="spacingAndGlyphs" fill="#000">10</text>
<text x="470.68" y="714.00" font-size="5.2" textLength="8.68" lengthAdjust="spacingAndGlyphs" fill="#000">100</text>
<text x="494.58" y="714.00" font-size="4.92" textLength="10.94" lengthAdjust="spacingAndGlyphs" fill="#000">1000</text>
<rect x="539.60" y="569.20" width="137.60" height="135.80" fill="none" stroke="#4a4a4a" stroke-width="1.4"/>
<line x1="539.60" y1="705.0" x2="539.60" y2="702.50" stroke="#000" stroke-width="0.7"/>
<line x1="549.96" y1="705.0" x2="549.96" y2="703.60" stroke="#000" stroke-width="0.7"/>
<line x1="556.01" y1="705.0" x2="556.01" y2="703.60" stroke="#000" stroke-width="0.7"/>
<line x1="560.31" y1="705.0" x2="560.31" y2="703.60" stroke="#000" stroke-width="0.7"/>
<line x1="563.64" y1="705.0" x2="563.64" y2="703.60" stroke="#000" stroke-width="0.7"/>
<line x1="566.37" y1="705.0" x2="566.37" y2="703.60" stroke="#000" stroke-width="0.7"/>
<line x1="568.67" y1="705.0" x2="568.67" y2="703.60" stroke="#000" stroke-width="0.7"/>
<line x1="570.67" y1="705.0" x2="570.67" y2="703.60" stroke="#000" stroke-width="0.7"/>
<line x1="572.43" y1="705.0" x2="572.43" y2="703.60" stroke="#000" stroke-width="0.7"/>
<line x1="574.00" y1="705.0" x2="574.00" y2="702.50" stroke="#000" stroke-width="0.7"/>
<line x1="584.36" y1="705.0" x2="584.36" y2="703.60" stroke="#000" stroke-width="0.7"/>
<line x1="590.41" y1="705.0" x2="590.41" y2="703.60" stroke="#000" stroke-width="0.7"/>
<line x1="594.71" y1="705.0" x2="594.71" y2="703.60" stroke="#000" stroke-width="0.7"/>
<line x1="598.04" y1="705.0" x2="598.04" y2="703.60" stroke="#000" stroke-width="0.7"/>
<line x1="600.77" y1="705.0" x2="600.77" y2="703.60" stroke="#000" stroke-width="0.7"/>
<line x1="603.07" y1="705.0" x2="603.07" y2="703.60" stroke="#000" stroke-width="0.7"/>
<line x1="605.07" y1="705.0" x2="605.07" y2="703.60" stroke="#000" stroke-width="0.7"/>
<line x1="606.83" y1="705.0" x2="606.83" y2="703.60" stroke="#000" stroke-width="0.7"/>
<line x1="608.40" y1="705.0" x2="608.40" y2="702.50" stroke="#000" stroke-width="0.7"/>
<line x1="618.76" y1="705.0" x2="618.76" y2="703.60" stroke="#000" stroke-width="0.7"/>
<line x1="624.81" y1="705.0" x2="624.81" y2="703.60" stroke="#000" stroke-width="0.7"/>
<line x1="629.11" y1="705.0" x2="629.11" y2="703.60" stroke="#000" stroke-width="0.7"/>
<line x1="632.44" y1="705.0" x2="632.44" y2="703.60" stroke="#000" stroke-width="0.7"/>
<line x1="635.17" y1="705.0" x2="635.17" y2="703.60" stroke="#000" stroke-width="0.7"/>
<line x1="637.47" y1="705.0" x2="637.47" y2="703.60" stroke="#000" stroke-width="0.7"/>
<line x1="639.47" y1="705.0" x2="639.47" y2="703.60" stroke="#000" stroke-width="0.7"/>
<line x1="641.23" y1="705.0" x2="641.23" y2="703.60" stroke="#000" stroke-width="0.7"/>
<line x1="642.80" y1="705.0" x2="642.80" y2="702.50" stroke="#000" stroke-width="0.7"/>
<line x1="653.16" y1="705.0" x2="653.16" y2="703.60" stroke="#000" stroke-width="0.7"/>
<line x1="659.21" y1="705.0" x2="659.21" y2="703.60" stroke="#000" stroke-width="0.7"/>
<line x1="663.51" y1="705.0" x2="663.51" y2="703.60" stroke="#000" stroke-width="0.7"/>
<line x1="666.84" y1="705.0" x2="666.84" y2="703.60" stroke="#000" stroke-width="0.7"/>
<line x1="669.57" y1="705.0" x2="669.57" y2="703.60" stroke="#000" stroke-width="0.7"/>
<line x1="671.87" y1="705.0" x2="671.87" y2="703.60" stroke="#000" stroke-width="0.7"/>
<line x1="673.87" y1="705.0" x2="673.87" y2="703.60" stroke="#000" stroke-width="0.7"/>
<line x1="675.63" y1="705.0" x2="675.63" y2="703.60" stroke="#000" stroke-width="0.7"/>
<path d="M576.3 703.5 L584.6 697.3 L590.1 684.9 L592.8 661.3 L595.5 640.7 L598.3 620.0 L601.0 603.5 L603.1 592.5 L605.1 600.8 L607.2 613.2 L609.3 626.9 L611.3 640.7 L614.1 661.3 L616.8 677.8 L620.3 693.0 L624.4 701.2 L630.0 704.0" fill="none" stroke="#777" stroke-width="0.9" stroke-linejoin="round"/>
<path d="M539.8 699.4 L543.3 698.0 L547.4 694.5 L552.9 686.3 L557.7 675.2 L561.9 664.2 L565.3 653.2 L568.8 639.4 L571.5 622.9 L573.6 610.5 L575.7 600.8 L577.7 598.1 L579.4 593.2 L580.5 599.4 L582.5 617.4 L585.3 633.9 L587.4 654.6 L590.1 679.4 L592.9 694.5 L597.0 701.4 L603.8 703.3 L607.9 704.0 L615.0 704.5" fill="none" stroke="#111" stroke-width="1.1" stroke-linejoin="round"/>
<path d="M585.0 704.3 L590.1 703.5 L592.8 700.5 L596.9 697.1 L601.0 688.8 L603.8 675.1 L605.8 654.4 L607.2 633.8 L608.6 620.0 L610.6 606.3 L612.7 598.0 L615.5 593.2 L617.5 600.8 L619.6 613.2 L621.6 626.9 L624.4 647.6 L627.2 668.2 L630.6 686.1 L635.4 698.5 L640.9 703.3 L647.8 704.3 L670.0 704.5" fill="none" stroke="#111" stroke-width="1.1" stroke-linejoin="round"/>
<text x="542.22" y="597.00" font-size="9.67" textLength="32.76" lengthAdjust="spacingAndGlyphs" fill="#000">control</text>
<text x="580.71" y="587.20" font-size="9.49" textLength="29.53" lengthAdjust="spacingAndGlyphs" fill="#000">CD11a</text>
<text x="621.51" y="596.90" font-size="9.46" textLength="24.18" lengthAdjust="spacingAndGlyphs" fill="#000">CD18</text>
<text x="577.85" y="562.60" font-size="11.28" textLength="66.42" lengthAdjust="spacingAndGlyphs" fill="#000">LFA-1 (TRG)</text>
<text x="549.34" y="727.00" font-size="9.47" textLength="116.81" lengthAdjust="spacingAndGlyphs" fill="#000">log fluorescence intensity</text>
<text transform="translate(531.60 694.50) rotate(-90)" x="-0.37" y="0" font-size="8.3" textLength="117.55" lengthAdjust="spacingAndGlyphs" fill="#000">cell count (arbitrary units)</text>
<text x="539.23" y="714.00" font-size="5.2" textLength="4.34" lengthAdjust="spacingAndGlyphs" fill="#000">.1</text>
<text x="571.26" y="714.00" font-size="5.2" textLength="2.89" lengthAdjust="spacingAndGlyphs" fill="#000">1</text>
<text x="605.15" y="714.00" font-size="5.2" textLength="5.78" lengthAdjust="spacingAndGlyphs" fill="#000">10</text>
<text x="639.00" y="714.00" font-size="5.2" textLength="8.68" lengthAdjust="spacingAndGlyphs" fill="#000">100</text>
<text x="663.68" y="714.00" font-size="4.92" textLength="10.94" lengthAdjust="spacingAndGlyphs" fill="#000">1000</text>
<rect x="373.90" y="858.40" width="134.70" height="137.00" fill="none" stroke="#4a4a4a" stroke-width="1.4"/>
<line x1="373.90" y1="995.4" x2="373.90" y2="992.90" stroke="#000" stroke-width="0.7"/>
<line x1="384.04" y1="995.4" x2="384.04" y2="994.00" stroke="#000" stroke-width="0.7"/>
<line x1="389.97" y1="995.4" x2="389.97" y2="994.00" stroke="#000" stroke-width="0.7"/>
<line x1="394.17" y1="995.4" x2="394.17" y2="994.00" stroke="#000" stroke-width="0.7"/>
<line x1="397.44" y1="995.4" x2="397.44" y2="994.00" stroke="#000" stroke-width="0.7"/>
<line x1="400.10" y1="995.4" x2="400.10" y2="994.00" stroke="#000" stroke-width="0.7"/>
<line x1="402.36" y1="995.4" x2="402.36" y2="994.00" stroke="#000" stroke-width="0.7"/>
<line x1="404.31" y1="995.4" x2="404.31" y2="994.00" stroke="#000" stroke-width="0.7"/>
<line x1="406.03" y1="995.4" x2="406.03" y2="994.00" stroke="#000" stroke-width="0.7"/>
<line x1="407.57" y1="995.4" x2="407.57" y2="992.90" stroke="#000" stroke-width="0.7"/>
<line x1="417.71" y1="995.4" x2="417.71" y2="994.00" stroke="#000" stroke-width="0.7"/>
<line x1="423.64" y1="995.4" x2="423.64" y2="994.00" stroke="#000" stroke-width="0.7"/>
<line x1="427.85" y1="995.4" x2="427.85" y2="994.00" stroke="#000" stroke-width="0.7"/>
<line x1="431.11" y1="995.4" x2="431.11" y2="994.00" stroke="#000" stroke-width="0.7"/>
<line x1="433.78" y1="995.4" x2="433.78" y2="994.00" stroke="#000" stroke-width="0.7"/>
<line x1="436.03" y1="995.4" x2="436.03" y2="994.00" stroke="#000" stroke-width="0.7"/>
<line x1="437.99" y1="995.4" x2="437.99" y2="994.00" stroke="#000" stroke-width="0.7"/>
<line x1="439.71" y1="995.4" x2="439.71" y2="994.00" stroke="#000" stroke-width="0.7"/>
<line x1="441.25" y1="995.4" x2="441.25" y2="992.90" stroke="#000" stroke-width="0.7"/>
<line x1="451.39" y1="995.4" x2="451.39" y2="994.00" stroke="#000" stroke-width="0.7"/>
<line x1="457.32" y1="995.4" x2="457.32" y2="994.00" stroke="#000" stroke-width="0.7"/>
<line x1="461.52" y1="995.4" x2="461.52" y2="994.00" stroke="#000" stroke-width="0.7"/>
<line x1="464.79" y1="995.4" x2="464.79" y2="994.00" stroke="#000" stroke-width="0.7"/>
<line x1="467.45" y1="995.4" x2="467.45" y2="994.00" stroke="#000" stroke-width="0.7"/>
<line x1="469.71" y1="995.4" x2="469.71" y2="994.00" stroke="#000" stroke-width="0.7"/>
<line x1="471.66" y1="995.4" x2="471.66" y2="994.00" stroke="#000" stroke-width="0.7"/>
<line x1="473.38" y1="995.4" x2="473.38" y2="994.00" stroke="#000" stroke-width="0.7"/>
<line x1="474.93" y1="995.4" x2="474.93" y2="992.90" stroke="#000" stroke-width="0.7"/>
<line x1="485.06" y1="995.4" x2="485.06" y2="994.00" stroke="#000" stroke-width="0.7"/>
<line x1="490.99" y1="995.4" x2="490.99" y2="994.00" stroke="#000" stroke-width="0.7"/>
<line x1="495.20" y1="995.4" x2="495.20" y2="994.00" stroke="#000" stroke-width="0.7"/>
<line x1="498.46" y1="995.4" x2="498.46" y2="994.00" stroke="#000" stroke-width="0.7"/>
<line x1="501.13" y1="995.4" x2="501.13" y2="994.00" stroke="#000" stroke-width="0.7"/>
<line x1="503.38" y1="995.4" x2="503.38" y2="994.00" stroke="#000" stroke-width="0.7"/>
<line x1="505.34" y1="995.4" x2="505.34" y2="994.00" stroke="#000" stroke-width="0.7"/>
<line x1="507.06" y1="995.4" x2="507.06" y2="994.00" stroke="#000" stroke-width="0.7"/>
<path d="M374.8 969.4 L376.2 959.7 L377.6 954.2 L379.0 946.0 L380.3 943.9 L382.4 947.3 L383.8 952.8 L385.2 940.4 L386.5 933.5 L388.6 917.0 L390.0 911.5 L391.4 917.0 L392.7 899.1 L394.8 892.2 L396.9 887.4 L398.9 888.1 L400.3 882.6 L401.7 888.1 L403.1 893.6 L405.1 903.2 L407.9 917.0 L410.7 926.7 L412.7 937.7 L415.5 951.5 L418.2 961.1 L421.0 968.0 L423.7 976.3 L426.5 983.2 L429.3 988.7 L431.0 990.7 L434.6 991.4 L438.8 990.7 L442.9 992.8 L447.0 994.8 L452.0 995.2" fill="none" stroke="#222" stroke-width="1.15" stroke-linejoin="round" stroke-dasharray="2.5 0.8"/>
<path d="M374.8 992.1 L378.3 990.7 L382.4 988.7 L384.5 983.2 L385.8 987.3 L387.9 985.9 L390.7 983.2 L392.7 979.0 L395.5 977.6 L397.6 970.8 L399.6 961.1 L401.7 954.2 L403.8 941.8 L405.8 932.2 L407.9 922.5 L410.0 912.9 L412.0 903.2 L413.4 882.6 L414.8 892.2 L416.2 899.1 L417.5 885.3 L418.9 883.9 L421.0 889.4 L423.1 910.1 L424.4 918.4 L425.8 900.5 L427.1 900.5 L428.4 912.9 L430.5 896.3 L432.6 910.1 L434.6 915.6 L436.7 923.9 L438.8 907.3 L440.2 914.2 L442.2 919.7 L444.3 932.1 L445.7 943.2 L448.4 932.1 L450.5 945.9 L453.2 939.0 L455.3 950.1 L458.8 959.7 L462.2 970.7 L465.6 980.4 L469.1 987.3 L473.2 990.0 L477.3 992.8 L482.9 994.8 L493.9 995.3 L507.0 995.3" fill="none" stroke="#111" stroke-width="1.15" stroke-linejoin="round"/>
<text x="375.43" y="878.40" font-size="9.49" textLength="32.14" lengthAdjust="spacingAndGlyphs" fill="#000">control</text>
<text x="436.62" y="890.50" font-size="9.18" textLength="23.46" lengthAdjust="spacingAndGlyphs" fill="#000">CD18</text>
<text x="413.87" y="851.20" font-size="10.9" textLength="53.27" lengthAdjust="spacingAndGlyphs" fill="#000">LFA-1 (wt)</text>
<text x="383.14" y="1016.80" font-size="9.4" textLength="115.91" lengthAdjust="spacingAndGlyphs" fill="#000">log fluorescence intensity</text>
<text transform="translate(364.80 984.60) rotate(-90)" x="-0.37" y="0" font-size="8.3" textLength="117.65" lengthAdjust="spacingAndGlyphs" fill="#000">cell count (arbitrary units)</text>
<text x="373.53" y="1004.00" font-size="5.2" textLength="4.34" lengthAdjust="spacingAndGlyphs" fill="#000">.1</text>
<text x="404.84" y="1004.00" font-size="5.2" textLength="2.89" lengthAdjust="spacingAndGlyphs" fill="#000">1</text>
<text x="438.00" y="1004.00" font-size="5.2" textLength="5.78" lengthAdjust="spacingAndGlyphs" fill="#000">10</text>
<text x="471.13" y="1004.00" font-size="5.2" textLength="8.68" lengthAdjust="spacingAndGlyphs" fill="#000">100</text>
<text x="495.08" y="1004.00" font-size="4.92" textLength="10.94" lengthAdjust="spacingAndGlyphs" fill="#000">1000</text>
<rect x="540.20" y="858.40" width="137.00" height="137.00" fill="none" stroke="#4a4a4a" stroke-width="1.4"/>
<line x1="540.20" y1="995.4" x2="540.20" y2="992.90" stroke="#000" stroke-width="0.7"/>
<line x1="550.51" y1="995.4" x2="550.51" y2="994.00" stroke="#000" stroke-width="0.7"/>
<line x1="556.54" y1="995.4" x2="556.54" y2="994.00" stroke="#000" stroke-width="0.7"/>
<line x1="560.82" y1="995.4" x2="560.82" y2="994.00" stroke="#000" stroke-width="0.7"/>
<line x1="564.14" y1="995.4" x2="564.14" y2="994.00" stroke="#000" stroke-width="0.7"/>
<line x1="566.85" y1="995.4" x2="566.85" y2="994.00" stroke="#000" stroke-width="0.7"/>
<line x1="569.14" y1="995.4" x2="569.14" y2="994.00" stroke="#000" stroke-width="0.7"/>
<line x1="571.13" y1="995.4" x2="571.13" y2="994.00" stroke="#000" stroke-width="0.7"/>
<line x1="572.88" y1="995.4" x2="572.88" y2="994.00" stroke="#000" stroke-width="0.7"/>
<line x1="574.45" y1="995.4" x2="574.45" y2="992.90" stroke="#000" stroke-width="0.7"/>
<line x1="584.76" y1="995.4" x2="584.76" y2="994.00" stroke="#000" stroke-width="0.7"/>
<line x1="590.79" y1="995.4" x2="590.79" y2="994.00" stroke="#000" stroke-width="0.7"/>
<line x1="595.07" y1="995.4" x2="595.07" y2="994.00" stroke="#000" stroke-width="0.7"/>
<line x1="598.39" y1="995.4" x2="598.39" y2="994.00" stroke="#000" stroke-width="0.7"/>
<line x1="601.10" y1="995.4" x2="601.10" y2="994.00" stroke="#000" stroke-width="0.7"/>
<line x1="603.39" y1="995.4" x2="603.39" y2="994.00" stroke="#000" stroke-width="0.7"/>
<line x1="605.38" y1="995.4" x2="605.38" y2="994.00" stroke="#000" stroke-width="0.7"/>
<line x1="607.13" y1="995.4" x2="607.13" y2="994.00" stroke="#000" stroke-width="0.7"/>
<line x1="608.70" y1="995.4" x2="608.70" y2="992.90" stroke="#000" stroke-width="0.7"/>
<line x1="619.01" y1="995.4" x2="619.01" y2="994.00" stroke="#000" stroke-width="0.7"/>
<line x1="625.04" y1="995.4" x2="625.04" y2="994.00" stroke="#000" stroke-width="0.7"/>
<line x1="629.32" y1="995.4" x2="629.32" y2="994.00" stroke="#000" stroke-width="0.7"/>
<line x1="632.64" y1="995.4" x2="632.64" y2="994.00" stroke="#000" stroke-width="0.7"/>
<line x1="635.35" y1="995.4" x2="635.35" y2="994.00" stroke="#000" stroke-width="0.7"/>
<line x1="637.64" y1="995.4" x2="637.64" y2="994.00" stroke="#000" stroke-width="0.7"/>
<line x1="639.63" y1="995.4" x2="639.63" y2="994.00" stroke="#000" stroke-width="0.7"/>
<line x1="641.38" y1="995.4" x2="641.38" y2="994.00" stroke="#000" stroke-width="0.7"/>
<line x1="642.95" y1="995.4" x2="642.95" y2="992.90" stroke="#000" stroke-width="0.7"/>
<line x1="653.26" y1="995.4" x2="653.26" y2="994.00" stroke="#000" stroke-width="0.7"/>
<line x1="659.29" y1="995.4" x2="659.29" y2="994.00" stroke="#000" stroke-width="0.7"/>
<line x1="663.57" y1="995.4" x2="663.57" y2="994.00" stroke="#000" stroke-width="0.7"/>
<line x1="666.89" y1="995.4" x2="666.89" y2="994.00" stroke="#000" stroke-width="0.7"/>
<line x1="669.60" y1="995.4" x2="669.60" y2="994.00" stroke="#000" stroke-width="0.7"/>
<line x1="671.89" y1="995.4" x2="671.89" y2="994.00" stroke="#000" stroke-width="0.7"/>
<line x1="673.88" y1="995.4" x2="673.88" y2="994.00" stroke="#000" stroke-width="0.7"/>
<line x1="675.63" y1="995.4" x2="675.63" y2="994.00" stroke="#000" stroke-width="0.7"/>
<path d="M540.2 968.0 L541.9 959.7 L544.0 951.5 L546.0 944.6 L548.1 946.6 L549.5 952.8 L550.8 940.4 L552.9 932.2 L555.0 918.4 L556.4 910.1 L557.7 914.3 L559.1 896.3 L561.2 890.8 L563.2 887.4 L564.6 889.4 L566.4 882.6 L568.1 889.4 L570.1 899.1 L572.2 910.1 L574.3 921.1 L577.0 925.3 L579.8 932.2 L581.9 943.2 L584.6 958.3 L587.4 968.0 L590.1 976.3 L592.9 983.2 L595.0 988.0 L599.1 991.4 L603.3 990.7 L606.0 992.1 L610.2 992.8 L612.9 994.8 L620.0 995.2" fill="none" stroke="#222" stroke-width="1.15" stroke-linejoin="round" stroke-dasharray="2.5 0.8"/>
<path d="M540.2 993.5 L544.6 992.1 L548.8 991.4 L551.5 990.0 L555.7 990.7 L559.8 987.3 L563.9 983.2 L566.7 976.3 L570.8 968.0 L574.3 954.2 L576.3 940.4 L578.4 932.2 L580.5 926.7 L582.5 917.0 L584.6 907.4 L587.4 901.9 L590.1 897.7 L592.2 896.3 L594.5 881.9 L596.3 892.2 L597.1 893.6 L599.1 897.7 L601.9 889.4 L603.9 896.3 L604.6 901.8 L607.4 893.6 L608.8 912.9 L611.3 908.7 L612.9 923.9 L614.3 936.3 L617.0 940.4 L619.8 948.7 L621.9 956.9 L623.9 952.1 L626.7 965.2 L630.1 974.8 L633.6 981.7 L637.7 987.2 L641.8 993.4 L647.3 994.8 L654.2 994.8 L663.9 995.3 L676.0 995.3" fill="none" stroke="#111" stroke-width="1.15" stroke-linejoin="round"/>
<text x="541.83" y="878.20" font-size="9.49" textLength="32.14" lengthAdjust="spacingAndGlyphs" fill="#000">control</text>
<text x="612.11" y="890.50" font-size="9.46" textLength="24.18" lengthAdjust="spacingAndGlyphs" fill="#000">CD18</text>
<text x="575.87" y="851.30" font-size="10.92" textLength="64.27" lengthAdjust="spacingAndGlyphs" fill="#000">LFA-1 (TRG)</text>
<text x="549.34" y="1016.80" font-size="9.47" textLength="116.81" lengthAdjust="spacingAndGlyphs" fill="#000">log fluorescence intensity</text>
<text transform="translate(531.60 984.60) rotate(-90)" x="-0.37" y="0" font-size="8.3" textLength="117.65" lengthAdjust="spacingAndGlyphs" fill="#000">cell count (arbitrary units)</text>
<text x="539.83" y="1004.00" font-size="5.2" textLength="4.34" lengthAdjust="spacingAndGlyphs" fill="#000">.1</text>
<text x="571.71" y="1004.00" font-size="5.2" textLength="2.89" lengthAdjust="spacingAndGlyphs" fill="#000">1</text>
<text x="605.45" y="1004.00" font-size="5.2" textLength="5.78" lengthAdjust="spacingAndGlyphs" fill="#000">10</text>
<text x="639.15" y="1004.00" font-size="5.2" textLength="8.68" lengthAdjust="spacingAndGlyphs" fill="#000">100</text>
<text x="663.68" y="1004.00" font-size="4.92" textLength="10.94" lengthAdjust="spacingAndGlyphs" fill="#000">1000</text>
<line x1="50.8" y1="262.8" x2="50.8" y2="372.90000000000003" stroke="#000" stroke-width="1.3"/>
<line x1="46.4" y1="372.30" x2="50.8" y2="372.30" stroke="#000" stroke-width="1.3"/>
<text x="35.14" y="375.25" font-size="10.6" textLength="5.90" lengthAdjust="spacingAndGlyphs" fill="#000">0</text>
<line x1="46.4" y1="336.20" x2="50.8" y2="336.20" stroke="#000" stroke-width="1.3"/>
<text x="27.84" y="342.25" font-size="10.6" textLength="11.79" lengthAdjust="spacingAndGlyphs" fill="#000">10</text>
<line x1="46.4" y1="300.10" x2="50.8" y2="300.10" stroke="#000" stroke-width="1.3"/>
<text x="27.84" y="305.95" font-size="10.6" textLength="11.79" lengthAdjust="spacingAndGlyphs" fill="#000">20</text>
<line x1="46.4" y1="264.00" x2="50.8" y2="264.00" stroke="#000" stroke-width="1.3"/>
<text x="27.84" y="269.65" font-size="10.6" textLength="11.79" lengthAdjust="spacingAndGlyphs" fill="#000">30</text>
<line x1="50.8" y1="372.3" x2="226.8" y2="372.3" stroke="#000" stroke-width="1.3"/>
<line x1="94" y1="372.3" x2="94" y2="375.3" stroke="#000" stroke-width="1.1"/>
<line x1="137.8" y1="372.3" x2="137.8" y2="375.3" stroke="#000" stroke-width="1.1"/>
<line x1="181.6" y1="372.3" x2="181.6" y2="375.3" stroke="#000" stroke-width="1.1"/>
<line x1="226.3" y1="372.3" x2="226.3" y2="375.3" stroke="#000" stroke-width="1.1"/>
<line x1="72.20" y1="324.29" x2="72.20" y2="313.10" stroke="#000" stroke-width="1.2"/>
<line x1="65.45" y1="313.10" x2="78.95" y2="313.10" stroke="#000" stroke-width="1.2"/>
<rect x="63.65" y="324.74" width="17.10" height="47.56" fill="#000" stroke="#000" stroke-width="0.9"/>
<line x1="116.00" y1="280.25" x2="116.00" y2="275.19" stroke="#000" stroke-width="1.2"/>
<line x1="109.25" y1="275.19" x2="122.75" y2="275.19" stroke="#000" stroke-width="1.2"/>
<rect x="107.45" y="280.69" width="17.10" height="91.61" fill="#000" stroke="#000" stroke-width="0.9"/>
<line x1="160.30" y1="321.04" x2="160.30" y2="314.90" stroke="#000" stroke-width="1.2"/>
<line x1="153.55" y1="314.90" x2="167.05" y2="314.90" stroke="#000" stroke-width="1.2"/>
<rect x="151.75" y="321.49" width="17.10" height="50.81" fill="#000" stroke="#000" stroke-width="0.9"/>
<line x1="203.35" y1="317.07" x2="203.35" y2="310.21" stroke="#000" stroke-width="1.2"/>
<line x1="196.71" y1="310.21" x2="209.99" y2="310.21" stroke="#000" stroke-width="1.2"/>
<rect x="194.95" y="317.52" width="16.80" height="54.78" fill="#000" stroke="#000" stroke-width="0.9"/>
<text transform="translate(16.00 377.00) rotate(-90)" x="-0.24" y="0" font-size="9.54" textLength="122.50" lengthAdjust="spacingAndGlyphs" fill="#000">% cells adhering to ICAM-1</text>
<text transform="translate(48.40 410.60) rotate(-45)" x="-0.61" y="0" font-size="9.8" textLength="41.75" lengthAdjust="spacingAndGlyphs" fill="#000">Ig-control</text>
<text transform="translate(97.10 405.90) rotate(-45)" x="-0.60" y="0" font-size="9.8" textLength="34.35" lengthAdjust="spacingAndGlyphs" fill="#000">Ig-cyh-1</text>
<text transform="translate(138.30 411.10) rotate(-45)" x="-0.61" y="0" font-size="9.8" textLength="41.75" lengthAdjust="spacingAndGlyphs" fill="#000">Ig-control</text>
<text transform="translate(187.30 405.50) rotate(-45)" x="-0.60" y="0" font-size="9.8" textLength="34.35" lengthAdjust="spacingAndGlyphs" fill="#000">Ig-cyh-1</text>
<line x1="53" y1="415.2" x2="129.6" y2="415.2" stroke="#000" stroke-width="1.2"/>
<line x1="138.8" y1="415.2" x2="215.5" y2="415.2" stroke="#000" stroke-width="1.2"/>
<text x="68.17" y="431.40" font-size="10.86" textLength="45.86" lengthAdjust="spacingAndGlyphs" fill="#000">LFA-1 wt</text>
<text x="142.27" y="431.60" font-size="10.95" textLength="70.57" lengthAdjust="spacingAndGlyphs" fill="#000">LFA-1 mutant</text>
<text x="130.96" y="442.30" font-size="10.81" textLength="95.48" lengthAdjust="spacingAndGlyphs" fill="#000">(WKA723-725TRG)</text>
<rect x="226.00" y="253.50" width="18.90" height="7.50" fill="#000"/>
<text x="248.67" y="262.00" font-size="10.0" textLength="64.85" lengthAdjust="spacingAndGlyphs" fill="#000">not stimulated</text>
<line x1="50.6" y1="521.2" x2="50.6" y2="710.5" stroke="#000" stroke-width="1.3"/>
<line x1="46.4" y1="707.00" x2="50.6" y2="707.00" stroke="#000" stroke-width="1.3"/>
<text x="35.44" y="710.65" font-size="10.6" textLength="5.90" lengthAdjust="spacingAndGlyphs" fill="#000">0</text>
<line x1="47.0" y1="688.50" x2="50.6" y2="688.50" stroke="#000" stroke-width="1.2"/>
<line x1="46.4" y1="670.00" x2="50.6" y2="670.00" stroke="#000" stroke-width="1.3"/>
<text x="29.54" y="673.65" font-size="10.6" textLength="11.79" lengthAdjust="spacingAndGlyphs" fill="#000">10</text>
<line x1="47.0" y1="651.50" x2="50.6" y2="651.50" stroke="#000" stroke-width="1.2"/>
<line x1="46.4" y1="633.00" x2="50.6" y2="633.00" stroke="#000" stroke-width="1.3"/>
<text x="29.54" y="636.65" font-size="10.6" textLength="11.79" lengthAdjust="spacingAndGlyphs" fill="#000">20</text>
<line x1="47.0" y1="614.50" x2="50.6" y2="614.50" stroke="#000" stroke-width="1.2"/>
<line x1="46.4" y1="596.00" x2="50.6" y2="596.00" stroke="#000" stroke-width="1.3"/>
<text x="29.54" y="599.65" font-size="10.6" textLength="11.79" lengthAdjust="spacingAndGlyphs" fill="#000">30</text>
<line x1="47.0" y1="577.50" x2="50.6" y2="577.50" stroke="#000" stroke-width="1.2"/>
<line x1="46.4" y1="559.00" x2="50.6" y2="559.00" stroke="#000" stroke-width="1.3"/>
<text x="29.54" y="562.65" font-size="10.6" textLength="11.79" lengthAdjust="spacingAndGlyphs" fill="#000">40</text>
<line x1="47.0" y1="540.50" x2="50.6" y2="540.50" stroke="#000" stroke-width="1.2"/>
<line x1="46.4" y1="522.00" x2="50.6" y2="522.00" stroke="#000" stroke-width="1.3"/>
<text x="29.54" y="525.65" font-size="10.6" textLength="11.79" lengthAdjust="spacingAndGlyphs" fill="#000">50</text>
<line x1="47.5" y1="707.0" x2="224.5" y2="707.0" stroke="#000" stroke-width="1.3"/>
<line x1="109" y1="707.0" x2="109" y2="710.2" stroke="#000" stroke-width="1.1"/>
<line x1="166.3" y1="707.0" x2="166.3" y2="710.2" stroke="#000" stroke-width="1.1"/>
<line x1="224.5" y1="707.0" x2="224.5" y2="710.2" stroke="#000" stroke-width="1.1"/>
<line x1="61.15" y1="697.20" x2="61.15" y2="695.53" stroke="#000" stroke-width="1.2"/>
<line x1="57.74" y1="695.53" x2="64.56" y2="695.53" stroke="#000" stroke-width="1.2"/>
<rect x="57.05" y="697.65" width="8.20" height="9.35" fill="#fff" stroke="#000" stroke-width="0.9"/>
<line x1="70.25" y1="696.64" x2="70.25" y2="694.05" stroke="#000" stroke-width="1.2"/>
<line x1="66.84" y1="694.05" x2="73.66" y2="694.05" stroke="#000" stroke-width="1.2"/>
<rect x="66.15" y="697.09" width="8.20" height="9.91" fill="#808080" stroke="#000" stroke-width="0.9"/>
<line x1="79.35" y1="695.53" x2="79.35" y2="691.83" stroke="#000" stroke-width="1.2"/>
<line x1="75.94" y1="691.83" x2="82.76" y2="691.83" stroke="#000" stroke-width="1.2"/>
<rect x="75.25" y="695.98" width="8.20" height="11.02" fill="#b8b8b8" stroke="#000" stroke-width="0.9"/>
<line x1="88.45" y1="699.78" x2="88.45" y2="698.12" stroke="#000" stroke-width="1.2"/>
<line x1="85.04" y1="698.12" x2="91.86" y2="698.12" stroke="#000" stroke-width="1.2"/>
<rect x="84.35" y="700.24" width="8.20" height="6.77" fill="url(#hatch)" stroke="#000" stroke-width="0.9"/>
<line x1="97.55" y1="699.23" x2="97.55" y2="697.01" stroke="#000" stroke-width="1.2"/>
<line x1="94.14" y1="697.01" x2="100.96" y2="697.01" stroke="#000" stroke-width="1.2"/>
<rect x="93.45" y="699.68" width="8.20" height="7.32" fill="#000" stroke="#000" stroke-width="0.9"/>
<line x1="119.05" y1="674.81" x2="119.05" y2="671.85" stroke="#000" stroke-width="1.2"/>
<line x1="115.64" y1="671.85" x2="122.46" y2="671.85" stroke="#000" stroke-width="1.2"/>
<rect x="114.95" y="675.26" width="8.20" height="31.74" fill="#fff" stroke="#000" stroke-width="0.9"/>
<line x1="128.15" y1="633.00" x2="128.15" y2="623.75" stroke="#000" stroke-width="1.2"/>
<line x1="124.74" y1="623.75" x2="131.56" y2="623.75" stroke="#000" stroke-width="1.2"/>
<rect x="124.05" y="633.45" width="8.20" height="73.55" fill="#808080" stroke="#000" stroke-width="0.9"/>
<line x1="137.25" y1="695.16" x2="137.25" y2="693.31" stroke="#000" stroke-width="1.2"/>
<line x1="133.84" y1="693.31" x2="140.66" y2="693.31" stroke="#000" stroke-width="1.2"/>
<rect x="133.15" y="695.61" width="8.20" height="11.39" fill="#b8b8b8" stroke="#000" stroke-width="0.9"/>
<line x1="146.35" y1="589.34" x2="146.35" y2="583.42" stroke="#000" stroke-width="1.2"/>
<line x1="142.94" y1="583.42" x2="149.76" y2="583.42" stroke="#000" stroke-width="1.2"/>
<rect x="142.25" y="589.79" width="8.20" height="117.21" fill="url(#hatch)" stroke="#000" stroke-width="0.9"/>
<line x1="155.45" y1="549.75" x2="155.45" y2="546.42" stroke="#000" stroke-width="1.2"/>
<line x1="152.04" y1="546.42" x2="158.86" y2="546.42" stroke="#000" stroke-width="1.2"/>
<rect x="151.35" y="550.20" width="8.20" height="156.80" fill="#000" stroke="#000" stroke-width="0.9"/>
<line x1="176.75" y1="692.57" x2="176.75" y2="689.61" stroke="#000" stroke-width="1.2"/>
<line x1="173.34" y1="689.61" x2="180.16" y2="689.61" stroke="#000" stroke-width="1.2"/>
<rect x="172.65" y="693.02" width="8.20" height="13.98" fill="#fff" stroke="#000" stroke-width="0.9"/>
<line x1="185.85" y1="684.80" x2="185.85" y2="682.39" stroke="#000" stroke-width="1.2"/>
<line x1="182.44" y1="682.39" x2="189.26" y2="682.39" stroke="#000" stroke-width="1.2"/>
<rect x="181.75" y="685.25" width="8.20" height="21.75" fill="#808080" stroke="#000" stroke-width="0.9"/>
<line x1="194.95" y1="689.98" x2="194.95" y2="687.58" stroke="#000" stroke-width="1.2"/>
<line x1="191.54" y1="687.58" x2="198.36" y2="687.58" stroke="#000" stroke-width="1.2"/>
<rect x="190.85" y="690.43" width="8.20" height="16.57" fill="#b8b8b8" stroke="#000" stroke-width="0.9"/>
<line x1="204.05" y1="592.30" x2="204.05" y2="584.90" stroke="#000" stroke-width="1.2"/>
<line x1="200.64" y1="584.90" x2="207.46" y2="584.90" stroke="#000" stroke-width="1.2"/>
<rect x="199.95" y="592.75" width="8.20" height="114.25" fill="url(#hatch)" stroke="#000" stroke-width="0.9"/>
<line x1="213.15" y1="585.27" x2="213.15" y2="571.21" stroke="#000" stroke-width="1.2"/>
<line x1="209.74" y1="571.21" x2="216.56" y2="571.21" stroke="#000" stroke-width="1.2"/>
<rect x="209.05" y="585.72" width="8.20" height="121.28" fill="#000" stroke="#000" stroke-width="0.9"/>
<text transform="translate(16.30 684.20) rotate(-90)" x="-0.27" y="0" font-size="10.85" textLength="139.27" lengthAdjust="spacingAndGlyphs" fill="#000">% cells adhering to ICAM-1</text>
<text x="59.38" y="727.30" font-size="10.73" textLength="35.18" lengthAdjust="spacingAndGlyphs" fill="#000">Ig-poly</text>
<text x="115.29" y="727.30" font-size="10.69" textLength="42.15" lengthAdjust="spacingAndGlyphs" fill="#000">LFA-1wt</text>
<text x="180.72" y="727.00" font-size="10.12" textLength="28.66" lengthAdjust="spacingAndGlyphs" fill="#000">LFA-1</text>
<text x="177.37" y="737.00" font-size="11.03" textLength="36.76" lengthAdjust="spacingAndGlyphs" fill="#000">mutant</text>
<text x="171.87" y="747.20" font-size="10.73" textLength="50.66" lengthAdjust="spacingAndGlyphs" fill="#000">(WKA723-</text>
<text x="173.83" y="757.40" font-size="10.82" textLength="44.50" lengthAdjust="spacingAndGlyphs" fill="#000">725TRG)</text>
<rect x="225.60" y="522.10" width="12.60" height="5.20" fill="#fff" stroke="#000" stroke-width="1"/>
<text x="241.88" y="527.40" font-size="10.4" textLength="74.44" lengthAdjust="spacingAndGlyphs" fill="#000">not stimulated</text>
<rect x="225.60" y="539.10" width="12.60" height="4.30" fill="#808080" stroke="#000" stroke-width="1"/>
<text x="241.88" y="543.80" font-size="10.4" textLength="23.90" lengthAdjust="spacingAndGlyphs" fill="#000">PMA</text>
<rect x="225.60" y="556.80" width="12.60" height="4.40" fill="#b8b8b8" stroke="#000" stroke-width="1"/>
<text x="242.16" y="561.60" font-size="10.4" textLength="28.83" lengthAdjust="spacingAndGlyphs" fill="#000">OKT3</text>
<rect x="225.60" y="574.60" width="12.60" height="4.90" fill="url(#hatch)" stroke="#000" stroke-width="1"/>
<text x="242.26" y="580.00" font-size="10.4" textLength="47.22" lengthAdjust="spacingAndGlyphs" fill="#000">5 mM Mn</text>
<rect x="225.60" y="592.90" width="12.60" height="4.80" fill="#000" stroke="#000" stroke-width="1"/>
<text x="241.87" y="598.50" font-size="10.4" textLength="37.56" lengthAdjust="spacingAndGlyphs" fill="#000">MEM48</text>
<text x="289.29" y="576.40" font-size="6.6" textLength="10.06" lengthAdjust="spacingAndGlyphs" fill="#000">2+</text>
<line x1="55.6" y1="816.0" x2="55.6" y2="1000.5" stroke="#000" stroke-width="1.3"/>
<line x1="51.6" y1="997.00" x2="55.4" y2="997.00" stroke="#000" stroke-width="1.3"/>
<text x="41.54" y="1000.65" font-size="10.6" textLength="5.90" lengthAdjust="spacingAndGlyphs" fill="#000">0</text>
<line x1="51.6" y1="952.00" x2="55.4" y2="952.00" stroke="#000" stroke-width="1.3"/>
<text x="33.94" y="955.65" font-size="10.6" textLength="11.79" lengthAdjust="spacingAndGlyphs" fill="#000">10</text>
<line x1="51.6" y1="907.00" x2="55.4" y2="907.00" stroke="#000" stroke-width="1.3"/>
<text x="33.94" y="910.65" font-size="10.6" textLength="11.79" lengthAdjust="spacingAndGlyphs" fill="#000">20</text>
<line x1="51.6" y1="862.00" x2="55.4" y2="862.00" stroke="#000" stroke-width="1.3"/>
<text x="33.94" y="865.65" font-size="10.6" textLength="11.79" lengthAdjust="spacingAndGlyphs" fill="#000">30</text>
<line x1="51.6" y1="817.00" x2="55.4" y2="817.00" stroke="#000" stroke-width="1.3"/>
<text x="33.94" y="820.65" font-size="10.6" textLength="11.79" lengthAdjust="spacingAndGlyphs" fill="#000">40</text>
<line x1="52.3" y1="997.0" x2="230.6" y2="997.0" stroke="#000" stroke-width="1.3"/>
<line x1="114.5" y1="997.0" x2="114.5" y2="1000.2" stroke="#000" stroke-width="1.1"/>
<line x1="172.8" y1="997.0" x2="172.8" y2="1000.2" stroke="#000" stroke-width="1.1"/>
<line x1="230.4" y1="997.0" x2="230.4" y2="1000.2" stroke="#000" stroke-width="1.1"/>
<line x1="71.08" y1="976.75" x2="71.08" y2="973.15" stroke="#000" stroke-width="1.2"/>
<line x1="66.07" y1="973.15" x2="76.08" y2="973.15" stroke="#000" stroke-width="1.2"/>
<rect x="64.85" y="977.20" width="12.45" height="19.80" fill="#fff" stroke="#000" stroke-width="0.9"/>
<line x1="84.43" y1="980.62" x2="84.43" y2="977.74" stroke="#000" stroke-width="1.2"/>
<line x1="79.42" y1="977.74" x2="89.43" y2="977.74" stroke="#000" stroke-width="1.2"/>
<rect x="78.20" y="981.07" width="12.45" height="15.93" fill="#b8b8b8" stroke="#000" stroke-width="0.9"/>
<line x1="97.78" y1="980.62" x2="97.78" y2="976.21" stroke="#000" stroke-width="1.2"/>
<line x1="92.77" y1="976.21" x2="102.78" y2="976.21" stroke="#000" stroke-width="1.2"/>
<rect x="91.55" y="981.07" width="12.45" height="15.93" fill="#000" stroke="#000" stroke-width="0.9"/>
<line x1="129.68" y1="962.62" x2="129.68" y2="957.72" stroke="#000" stroke-width="1.2"/>
<line x1="124.67" y1="957.72" x2="134.68" y2="957.72" stroke="#000" stroke-width="1.2"/>
<rect x="123.45" y="963.07" width="12.45" height="33.93" fill="#fff" stroke="#000" stroke-width="0.9"/>
<line x1="143.02" y1="881.80" x2="143.02" y2="876.00" stroke="#000" stroke-width="1.2"/>
<line x1="138.02" y1="876.00" x2="148.03" y2="876.00" stroke="#000" stroke-width="1.2"/>
<rect x="136.80" y="882.25" width="12.45" height="114.75" fill="#b8b8b8" stroke="#000" stroke-width="0.9"/>
<line x1="156.38" y1="853.90" x2="156.38" y2="849.89" stroke="#000" stroke-width="1.2"/>
<line x1="151.37" y1="849.89" x2="161.38" y2="849.89" stroke="#000" stroke-width="1.2"/>
<rect x="150.15" y="854.35" width="12.45" height="142.65" fill="#000" stroke="#000" stroke-width="0.9"/>
<line x1="187.88" y1="980.22" x2="187.88" y2="975.26" stroke="#000" stroke-width="1.2"/>
<line x1="182.87" y1="975.26" x2="192.88" y2="975.26" stroke="#000" stroke-width="1.2"/>
<rect x="181.65" y="980.67" width="12.45" height="16.33" fill="#fff" stroke="#000" stroke-width="0.9"/>
<line x1="201.22" y1="981.02" x2="201.22" y2="976.35" stroke="#000" stroke-width="1.2"/>
<line x1="196.22" y1="976.35" x2="206.23" y2="976.35" stroke="#000" stroke-width="1.2"/>
<rect x="195.00" y="981.48" width="12.45" height="15.53" fill="#b8b8b8" stroke="#000" stroke-width="0.9"/>
<line x1="214.57" y1="917.80" x2="214.57" y2="900.25" stroke="#000" stroke-width="1.2"/>
<line x1="209.57" y1="900.25" x2="219.58" y2="900.25" stroke="#000" stroke-width="1.2"/>
<rect x="208.35" y="918.25" width="12.45" height="78.75" fill="#000" stroke="#000" stroke-width="0.9"/>
<text transform="translate(17.80 982.20) rotate(-90)" x="-0.61" y="0" font-size="10.83" textLength="146.21" lengthAdjust="spacingAndGlyphs" fill="#000">[%] cells adhering to ICAM-1</text>
<text x="65.79" y="1014.80" font-size="10.67" textLength="34.97" lengthAdjust="spacingAndGlyphs" fill="#000">Ig-poly</text>
<text x="120.37" y="1014.80" font-size="10.95" textLength="43.17" lengthAdjust="spacingAndGlyphs" fill="#000">LFA-1wt</text>
<text x="188.12" y="1014.60" font-size="10.19" textLength="28.87" lengthAdjust="spacingAndGlyphs" fill="#000">LFA-1</text>
<text x="185.28" y="1025.30" font-size="10.88" textLength="36.25" lengthAdjust="spacingAndGlyphs" fill="#000">mutant</text>
<text x="178.79" y="1035.90" font-size="10.32" textLength="48.73" lengthAdjust="spacingAndGlyphs" fill="#000">(WKA723-</text>
<text x="181.75" y="1046.20" font-size="10.57" textLength="43.48" lengthAdjust="spacingAndGlyphs" fill="#000">725TRG)</text>
<rect x="229.50" y="815.40" width="14.00" height="5.50" fill="#fff" stroke="#000" stroke-width="1"/>
<text x="248.78" y="821.20" font-size="10.4" textLength="74.44" lengthAdjust="spacingAndGlyphs" fill="#000">not stimulated</text>
<rect x="229.50" y="834.10" width="14.00" height="6.00" fill="#b8b8b8" stroke="#000" stroke-width="1"/>
<text x="249.02" y="840.20" font-size="10.4" textLength="30.89" lengthAdjust="spacingAndGlyphs" fill="#000">OKT3</text>
<rect x="229.50" y="855.20" width="14.00" height="6.00" fill="#000" stroke="#000" stroke-width="1"/>
<text x="248.77" y="861.80" font-size="10.4" textLength="37.56" lengthAdjust="spacingAndGlyphs" fill="#000">MEM48</text>
</g>
</svg>
</body></html>
